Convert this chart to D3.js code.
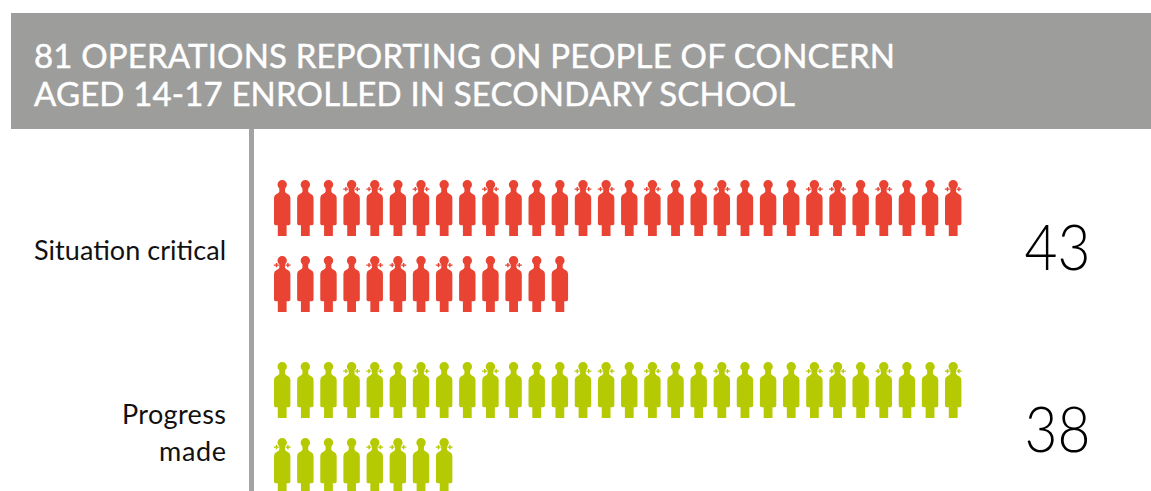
<!DOCTYPE html>
<html>
<head>
<meta charset="utf-8">
<script src="https://cdn.jsdelivr.net/npm/d3@7"></script>
<style>
html,body{margin:0;padding:0;background:#fff;overflow:hidden}
svg{display:block}
text{font-family:Lato,"Open Sans",sans-serif}
</style>
</head>
<body>
<svg id="chart" width="1151" height="491"></svg>
<script>
const titleLines = ["81 OPERATIONS REPORTING ON PEOPLE OF CONCERN", "AGED 14-17 ENROLLED IN SECONDARY SCHOOL"];
const categories = ["Situation critical", "Progress made"];
const categoryLabelLines = [["Situation critical"], ["Progress", "made"]];
const categoryLabelWidths = [[192], [104, 67]];
const values = [43, 38];
const colors = ["#e84333", "#b5ca03"];
const perRow = 30;
// Positions within the run of figures that carry the small arrows at the neck.
const arrowedFirstRow = [3, 4, 6, 9, 13, 14, 16, 19, 23, 24, 26, 29];
const arrowedSecondRow = [0, 4, 5, 7, 10];

const svg = d3.select("#chart");
const W = 1151, H = 491;

// header band
svg.append("rect").attr("x", 11).attr("y", 13).attr("width", W - 11).attr("height", 116).attr("fill", "#9d9d9c");
svg.selectAll("text.title").data(titleLines).join("text")
  .attr("class", "title")
  .attr("x", 34)
  .attr("y", (d, i) => 68 + i * 38)
  .attr("fill", "#fff")
  .attr("stroke", "#fff")
  .attr("stroke-width", 0.45)
  .attr("font-size", 33)
  .attr("textLength", (d, i) => i === 0 ? 861 : 761)
  .attr("lengthAdjust", "spacing")
  .text(d => d);

// vertical baseline
svg.append("rect").attr("x", 249).attr("y", 129).attr("width", 5).attr("height", H - 129).attr("fill", "#a3a3a2");

const x = d3.scaleLinear().domain([0, perRow - 1]).range([282.2, 953.2]);
const y = d3.scaleOrdinal().domain(["00", "01", "10", "11"]).range([180, 256, 362, 438]);

// one figure, drawn from its centre line with the top of the head at y = 0
function personPath() {
  const p = d3.path();
  p.arc(0, 4.7, 4.7, 0.72 * Math.PI, 0.28 * Math.PI);
  p.lineTo(2.8, 11.5);
  p.quadraticCurveTo(3.4, 13, 5.6, 14);
  p.quadraticCurveTo(8.2, 15.2, 8.2, 18);
  p.lineTo(8.2, 43.5);
  p.quadraticCurveTo(8.2, 45.2, 6.6, 45.2);
  p.lineTo(4.4, 45.2);
  p.lineTo(4.4, 56);
  p.lineTo(-4.4, 56);
  p.lineTo(-4.4, 45.2);
  p.lineTo(-6.6, 45.2);
  p.quadraticCurveTo(-8.2, 45.2, -8.2, 43.5);
  p.lineTo(-8.2, 18);
  p.quadraticCurveTo(-8.2, 15.2, -5.6, 14);
  p.quadraticCurveTo(-3.4, 13, -2.8, 11.5);
  p.closePath();
  return p.toString();
}

// the pair of small arrows beside the neck
function arrowsPath() {
  const p = d3.path();
  [-1, 1].forEach(s => {
    p.moveTo(s * 3.4, 8.4); p.lineTo(s * 8.4, 8.4); p.lineTo(s * 8.4, 9.8);
    p.lineTo(s * 3.4, 9.8); p.closePath();
    p.moveTo(s * 5.0, 6.9); p.lineTo(s * 6.4, 6.9); p.lineTo(s * 6.4, 11.3);
    p.lineTo(s * 5.0, 11.3); p.closePath();
  });
  return p.toString();
}

const figure = personPath();
const arrows = arrowsPath();

categories.forEach((cat, c) => {
  const people = d3.range(values[c]).map(i => {
    const row = Math.floor(i / perRow), col = i % perRow;
    const arrowed = (row === 0 ? arrowedFirstRow : arrowedSecondRow).includes(col);
    return {row, col, arrowed};
  });
  const g = svg.append("g").attr("class", "series").attr("fill", colors[c]);
  const fig = g.selectAll("g").data(people).join("g")
    .attr("transform", d => `translate(${x(d.col)},${y(`${c}${d.row}`)})`);
  fig.append("path").attr("d", figure);
  fig.filter(d => d.arrowed).append("path").attr("d", arrows);

  // category label, right aligned to the baseline
  const lines = categoryLabelLines[c];
  const firstBaseline = c === 0 ? 260 : 424;
  svg.selectAll(`text.cat${c}`).data(lines).join("text")
    .attr("class", `cat${c}`)
    .attr("x", 226)
    .attr("y", (d, i) => firstBaseline + i * 37)
    .attr("text-anchor", "end")
    .attr("font-size", 27)
    .attr("fill", "#111")
    .attr("textLength", (d, i) => categoryLabelWidths[c][i])
    .attr("lengthAdjust", "spacing")
    .text(d => d);

  // total
  svg.append("text")
    .attr("x", 1057.5)
    .attr("y", c === 0 ? 270 : 452)
    .attr("text-anchor", "middle")
    .attr("font-size", 64)
    .attr("font-weight", 300)
    .attr("fill", "#000")
    .attr("textLength", 66)
    .attr("lengthAdjust", "spacingAndGlyphs")
    .text(values[c]);
});
</script>
</body>
</html>
